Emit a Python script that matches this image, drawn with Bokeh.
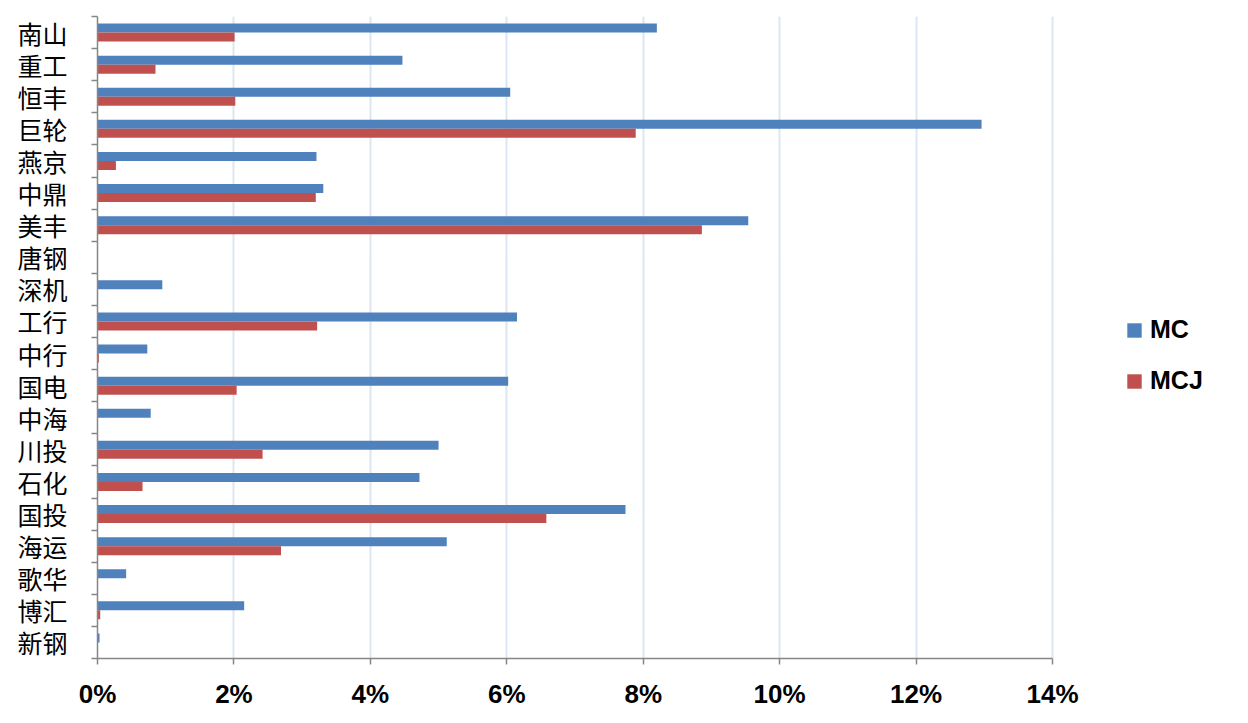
from bokeh.plotting import figure
from bokeh.models import (Range1d, LinearAxis, FixedTicker,
                          PrintfTickFormatter, Legend, LegendItem, ColumnDataSource)
from bokeh.transform import dodge
from bokeh.embed import file_html
from bokeh.resources import INLINE

categories = ["南山", "重工", "恒丰", "巨轮", "燕京", "中鼎", "美丰", "唐钢", "深机", "工行",
              "中行", "国电", "中海", "川投", "石化", "国投", "海运", "歌华", "博汇", "新钢"]
mc = [8.20, 4.47, 6.05, 12.96, 3.21, 3.31, 9.54, 0.0, 0.95, 6.15,
      0.73, 6.02, 0.78, 5.00, 4.72, 7.74, 5.12, 0.42, 2.15, 0.03]
mcj = [2.01, 0.85, 2.02, 7.89, 0.27, 3.20, 8.86, 0.0, 0.0, 3.22,
       0.02, 2.04, 0.0, 2.42, 0.66, 6.58, 2.69, 0.0, 0.04, 0.0]
x_ticks = [0, 2, 4, 6, 8, 10, 12, 14]

n = len(categories)
# category slot centres (first category at the top), like a categorical scale
slot = [n - i - 0.5 for i in range(n)]
bounds_ticks = list(range(n + 1))
src = ColumnDataSource(dict(cat=categories, slot=slot, mc=mc, mcj=mcj))

X_MAX = 14
FRAME_L, FRAME_R = 97, 1240          # frame extends right so the legend sits inside it
AXIS_R = 1052                         # where 14% falls
x_end = X_MAX * (FRAME_R - FRAME_L) / (AXIS_R - FRAME_L)

p = figure(width=1240, height=715, output_backend="svg", toolbar_location=None,
           y_range=Range1d(0, n), x_range=Range1d(0, x_end),
           y_axis_location=None, x_axis_location=None,
           min_border_left=FRAME_L, min_border_right=0, min_border_top=16, min_border_bottom=57)
p.outline_line_color = None

yaxis = LinearAxis(ticker=FixedTicker(ticks=slot, minor_ticks=bounds_ticks),
                   major_label_overrides={s: c for s, c in zip(slot, categories)},
                   axis_line_color="#868686", axis_line_width=1.5,
                   major_tick_line_color=None, major_tick_out=0, major_tick_in=0,
                   minor_tick_line_color="#868686", minor_tick_line_width=1.5,
                   minor_tick_out=6, minor_tick_in=0,
                   major_label_standoff=24, major_label_text_font="Noto Sans CJK SC",
                   major_label_text_font_size="25px", major_label_text_color="black")
p.add_layout(yaxis, "left")

xaxis = LinearAxis(ticker=FixedTicker(ticks=x_ticks), formatter=PrintfTickFormatter(format="%d%%"),
                   bounds=(0, X_MAX),
                   major_tick_out=6, major_tick_in=0, minor_tick_line_color=None,
                   axis_line_color="#868686", axis_line_width=1.5,
                   major_tick_line_color="#868686", major_tick_line_width=1.5,
                   major_label_standoff=14, major_label_text_font="Liberation Sans",
                   major_label_text_font_style="bold", major_label_text_font_size="26px",
                   major_label_text_color="black")
p.add_layout(xaxis, "below")

p.xgrid.ticker = FixedTicker(ticks=x_ticks)
p.xgrid.grid_line_color = "#dce6f2"
p.xgrid.grid_line_width = 2
p.ygrid.grid_line_color = None

r1 = p.hbar(y=dodge("slot", 0.14), right="mc", left=0, height=0.28,
            source=src, fill_color="#4f81bd", line_color=None)
r2 = p.hbar(y=dodge("slot", -0.14), right="mcj", left=0, height=0.28,
            source=src, fill_color="#c0504d", line_color=None)

legend = Legend(items=[LegendItem(label="MC", renderers=[r1]), LegendItem(label="MCJ", renderers=[r2])],
                location=(1028, 263), border_line_color=None, background_fill_alpha=0,
                padding=0, margin=0, spacing=22, label_height=24, glyph_height=18, glyph_width=18,
                label_standoff=7, label_text_font="Liberation Sans", label_text_font_style="bold",
                label_text_font_size="25px", label_text_color="black")
p.add_layout(legend, "center")

open("out.html", "w").write(file_html(p, INLINE))
